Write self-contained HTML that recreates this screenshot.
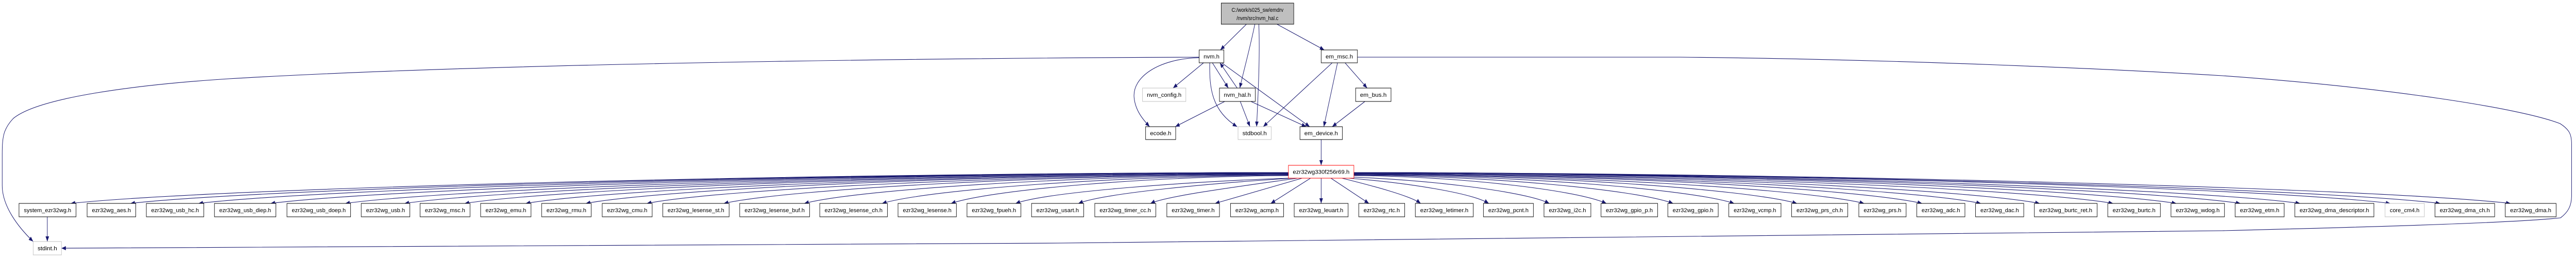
<!DOCTYPE html>
<html><head><meta charset="utf-8">
<style>
html,body{margin:0;padding:0;background:#fff;width:100%;height:100%;overflow:hidden;}
svg{display:block;position:absolute;left:0;top:0;width:100vw;height:100vh;}
text{font-family:"Liberation Sans",Arial,sans-serif;font-size:11px;fill:#000;}
.e{fill:none;stroke:#191970;stroke-width:1.1;}
.b rect{fill:#fff;stroke:#000;}
.b.g rect{stroke:#bfbfbf;}
</style></head>
<body>
<svg viewBox="0 0 5826 501" preserveAspectRatio="none" xmlns="http://www.w3.org/2000/svg">
<defs>
<marker id="a" markerWidth="10" markerHeight="8" refX="10" refY="4" orient="auto" markerUnits="userSpaceOnUse"><path d="M0,0 L10,4 L0,8z" fill="#191970"/></marker>
</defs>
<g marker-end="url(#a)">
<path class="e" d="M2819,47 L2760,97"/>
<path class="e" d="M2838,47 C2828,90 2812,140 2804,171"/>
<path class="e" d="M2847,47 C2850,110 2845,190 2842,246"/>
<path class="e" d="M2888,47 L2995,97"/>
<path class="e" d="M2712,111 C2400,112 1200,118 517,153 C300,165 86,190 30,230 C8,250 5,265 5,300 L5,360 C5,400 40,440 75,469"/>
<path class="e" d="M2712,112 C2620,114 2560,150 2565,190 C2568,215 2585,232 2600,246"/>
<path class="e" d="M2722,122 L2653,171"/>
<path class="e" d="M2742,122 L2778,171"/>
<path class="e" d="M2798,171 L2759,122"/>
<path class="e" d="M2736,122 C2735,170 2740,215 2798,246"/>
<path class="e" d="M2763,122 L2962,246"/>
<path class="e" d="M2770,197 L2658,246"/>
<path class="e" d="M2805,197 L2827,246"/>
<path class="e" d="M2829,197 L2954,246"/>
<path class="e" d="M3013,122 L2857,246"/>
<path class="e" d="M3025,122 L2994,246"/>
<path class="e" d="M3042,122 L3092,171"/>
<path class="e" d="M3087,197 L3013,246"/>
<path class="e" d="M2988,271 L2988,321"/>
<path class="e" d="M107,421 L107,469"/>
<path class="e" d="M3070,111 L3800,111 C4300,115 4800,135 5026,147 C5400,170 5700,210 5790,240 C5812,252 5816,262 5816,280 L5816,380 C5816,400 5808,412 5791,423 C5700,432 5400,440 5026,448 C4000,462 3000,470 2400,472 C1600,476 800,479 139,482"/>
<path class="e" d="M2914,335 C1812,336 490,365 160,395"/>
<path class="e" d="M2914,335 C1866,336 609,365 295,395"/>
<path class="e" d="M2914,335 C1928,336 745,365 449,395"/>
<path class="e" d="M2914,335 C1993,336 888,365 612,395"/>
<path class="e" d="M2914,335 C2061,336 1037,365 781,395"/>
<path class="e" d="M2914,336 C2114,337 1155,365 915,395"/>
<path class="e" d="M2914,336 C2169,337 1275,365 1051,395"/>
<path class="e" d="M2914,337 C2224,338 1396,365 1189,395"/>
<path class="e" d="M2914,337 C2278,338 1516,365 1325,395"/>
<path class="e" d="M2914,338 C2334,339 1637,366 1463,395"/>
<path class="e" d="M2914,338 C2403,339 1790,366 1637,395"/>
<path class="e" d="M2914,339 C2476,340 1950,366 1819,395"/>
<path class="e" d="M2914,340 C2546,341 2105,367 1995,395"/>
<path class="e" d="M2914,341 C2609,342 2243,368 2151,395"/>
<path class="e" d="M2916,346 C2700,352 2371,372 2297,395"/>
<path class="e" d="M2925,346 C2750,355 2496,375 2439,395"/>
<path class="e" d="M2935,346 C2820,360 2639,380 2602,395"/>
<path class="e" d="M2945,346 L2748,395"/>
<path class="e" d="M2964,346 L2874,395"/>
<path class="e" d="M2988,346 L2988,395"/>
<path class="e" d="M3010,346 L3096,395"/>
<path class="e" d="M3035,346 C3100,360 3190,380 3213,395"/>
<path class="e" d="M3050,346 C3184,355 3330,375 3367,395"/>
<path class="e" d="M3060,344 C3239,350 3451,372 3504,395"/>
<path class="e" d="M3062,341 C3290,342 3564,368 3633,395"/>
<path class="e" d="M3062,340 C3351,341 3697,367 3784,395"/>
<path class="e" d="M3062,339 C3406,340 3819,366 3922,395"/>
<path class="e" d="M3062,338 C3463,339 3944,366 4064,395"/>
<path class="e" d="M3062,338 C3524,339 4078,366 4216,395"/>
<path class="e" d="M3062,337 C3576,338 4193,365 4347,395"/>
<path class="e" d="M3062,337 C3629,338 4310,365 4480,395"/>
<path class="e" d="M3062,336 C3682,337 4427,365 4613,395"/>
<path class="e" d="M3062,336 C3749,337 4573,365 4779,395"/>
<path class="e" d="M3062,335 C3806,336 4699,365 4922,395"/>
<path class="e" d="M3062,335 C3864,336 4826,365 5067,395"/>
<path class="e" d="M3062,335 C3918,336 4945,365 5202,395"/>
<path class="e" d="M3062,335 C4000,336 5125,365 5406,395"/>
<path class="e" d="M3062,335 C4045,336 5224,365 5519,395"/>
<path class="e" d="M3062,335 C4108,336 5364,365 5678,395"/>
</g>

<rect x="2762" y="6" width="164" height="41" fill="#bfbfbf" stroke="#000"/>
<text x="2844" y="23" text-anchor="middle">C:/work/s025_sw/emdrv</text>
<text x="2844" y="39" text-anchor="middle">/nvm/src/nvm_hal.c</text>
<rect x="2712" y="97" width="56" height="25" fill="#fff" stroke="#000"/><text x="2740" y="113.5" text-anchor="middle" textLength="36" lengthAdjust="spacingAndGlyphs">nvm.h</text>
<rect x="2988" y="97" width="82" height="25" fill="#fff" stroke="#000"/><text x="3029" y="113.5" text-anchor="middle" textLength="62" lengthAdjust="spacingAndGlyphs">em_msc.h</text>
<rect x="2584" y="171" width="98" height="26" fill="#fff" stroke="#bfbfbf"/><text x="2633" y="188" text-anchor="middle" textLength="78" lengthAdjust="spacingAndGlyphs">nvm_config.h</text>
<rect x="2758" y="171" width="81" height="26" fill="#fff" stroke="#000"/><text x="2798.5" y="188" text-anchor="middle" textLength="61" lengthAdjust="spacingAndGlyphs">nvm_hal.h</text>
<rect x="3066" y="171" width="80" height="26" fill="#fff" stroke="#000"/><text x="3106" y="188" text-anchor="middle" textLength="60" lengthAdjust="spacingAndGlyphs">em_bus.h</text>
<rect x="2591" y="246" width="68" height="25" fill="#fff" stroke="#000"/><text x="2625" y="262.5" text-anchor="middle" textLength="48" lengthAdjust="spacingAndGlyphs">ecode.h</text>
<rect x="2800" y="246" width="75" height="25" fill="#fff" stroke="#bfbfbf"/><text x="2837.5" y="262.5" text-anchor="middle" textLength="55" lengthAdjust="spacingAndGlyphs">stdbool.h</text>
<rect x="2940" y="246" width="96" height="25" fill="#fff" stroke="#000"/><text x="2988" y="262.5" text-anchor="middle" textLength="76" lengthAdjust="spacingAndGlyphs">em_device.h</text>
<rect x="2914" y="321" width="148" height="25" fill="#fff" stroke="#ff0000"/><text x="2988" y="337.5" text-anchor="middle" textLength="128" lengthAdjust="spacingAndGlyphs">ezr32wg330f256r69.h</text>
<rect x="75" y="469" width="64" height="26" fill="#fff" stroke="#bfbfbf"/><text x="107" y="486" text-anchor="middle" textLength="44" lengthAdjust="spacingAndGlyphs">stdint.h</text>

<g text-anchor="middle">
<g class="b"><rect x="43" y="395" width="129" height="26"/><text x="107.5" y="412" textLength="107" lengthAdjust="spacingAndGlyphs">system_ezr32wg.h</text></g>
<g class="b"><rect x="197" y="395" width="110" height="26"/><text x="252" y="412" textLength="88" lengthAdjust="spacingAndGlyphs">ezr32wg_aes.h</text></g>
<g class="b"><rect x="331" y="395" width="130" height="26"/><text x="396" y="412" textLength="108" lengthAdjust="spacingAndGlyphs">ezr32wg_usb_hc.h</text></g>
<g class="b"><rect x="485" y="395" width="139" height="26"/><text x="554.5" y="412" textLength="117" lengthAdjust="spacingAndGlyphs">ezr32wg_usb_diep.h</text></g>
<g class="b"><rect x="649" y="395" width="144" height="26"/><text x="721" y="412" textLength="122" lengthAdjust="spacingAndGlyphs">ezr32wg_usb_doep.h</text></g>
<g class="b"><rect x="817" y="395" width="110" height="26"/><text x="872" y="412" textLength="88" lengthAdjust="spacingAndGlyphs">ezr32wg_usb.h</text></g>
<g class="b"><rect x="950" y="395" width="113" height="26"/><text x="1006.5" y="412" textLength="91" lengthAdjust="spacingAndGlyphs">ezr32wg_msc.h</text></g>
<g class="b"><rect x="1087" y="395" width="114" height="26"/><text x="1144" y="412" textLength="92" lengthAdjust="spacingAndGlyphs">ezr32wg_emu.h</text></g>
<g class="b"><rect x="1225" y="395" width="112" height="26"/><text x="1281" y="412" textLength="90" lengthAdjust="spacingAndGlyphs">ezr32wg_rmu.h</text></g>
<g class="b"><rect x="1362" y="395" width="113" height="26"/><text x="1418.5" y="412" textLength="91" lengthAdjust="spacingAndGlyphs">ezr32wg_cmu.h</text></g>
<g class="b"><rect x="1499" y="395" width="150" height="26"/><text x="1574" y="412" textLength="128" lengthAdjust="spacingAndGlyphs">ezr32wg_lesense_st.h</text></g>
<g class="b"><rect x="1673" y="395" width="158" height="26"/><text x="1752" y="412" textLength="136" lengthAdjust="spacingAndGlyphs">ezr32wg_lesense_buf.h</text></g>
<g class="b"><rect x="1854" y="395" width="153" height="26"/><text x="1930.5" y="412" textLength="131" lengthAdjust="spacingAndGlyphs">ezr32wg_lesense_ch.h</text></g>
<g class="b"><rect x="2031" y="395" width="132" height="26"/><text x="2097" y="412" textLength="110" lengthAdjust="spacingAndGlyphs">ezr32wg_lesense.h</text></g>
<g class="b"><rect x="2187" y="395" width="122" height="26"/><text x="2248" y="412" textLength="100" lengthAdjust="spacingAndGlyphs">ezr32wg_fpueh.h</text></g>
<g class="b"><rect x="2333" y="395" width="118" height="26"/><text x="2392" y="412" textLength="96" lengthAdjust="spacingAndGlyphs">ezr32wg_usart.h</text></g>
<g class="b"><rect x="2476" y="395" width="138" height="26"/><text x="2545" y="412" textLength="116" lengthAdjust="spacingAndGlyphs">ezr32wg_timer_cc.h</text></g>
<g class="b"><rect x="2639" y="395" width="119" height="26"/><text x="2698.5" y="412" textLength="97" lengthAdjust="spacingAndGlyphs">ezr32wg_timer.h</text></g>
<g class="b"><rect x="2783" y="395" width="120" height="26"/><text x="2843" y="412" textLength="98" lengthAdjust="spacingAndGlyphs">ezr32wg_acmp.h</text></g>
<g class="b"><rect x="2927" y="395" width="122" height="26"/><text x="2988" y="412" textLength="100" lengthAdjust="spacingAndGlyphs">ezr32wg_leuart.h</text></g>
<g class="b"><rect x="3073" y="395" width="104" height="26"/><text x="3125" y="412" textLength="82" lengthAdjust="spacingAndGlyphs">ezr32wg_rtc.h</text></g>
<g class="b"><rect x="3201" y="395" width="131" height="26"/><text x="3266.5" y="412" textLength="109" lengthAdjust="spacingAndGlyphs">ezr32wg_letimer.h</text></g>
<g class="b"><rect x="3355" y="395" width="113" height="26"/><text x="3411.5" y="412" textLength="91" lengthAdjust="spacingAndGlyphs">ezr32wg_pcnt.h</text></g>
<g class="b"><rect x="3492" y="395" width="106" height="26"/><text x="3545" y="412" textLength="84" lengthAdjust="spacingAndGlyphs">ezr32wg_i2c.h</text></g>
<g class="b"><rect x="3621" y="395" width="128" height="26"/><text x="3685" y="412" textLength="106" lengthAdjust="spacingAndGlyphs">ezr32wg_gpio_p.h</text></g>
<g class="b"><rect x="3772" y="395" width="114" height="26"/><text x="3829" y="412" textLength="92" lengthAdjust="spacingAndGlyphs">ezr32wg_gpio.h</text></g>
<g class="b"><rect x="3910" y="395" width="118" height="26"/><text x="3969" y="412" textLength="96" lengthAdjust="spacingAndGlyphs">ezr32wg_vcmp.h</text></g>
<g class="b"><rect x="4052" y="395" width="127" height="26"/><text x="4115.5" y="412" textLength="105" lengthAdjust="spacingAndGlyphs">ezr32wg_prs_ch.h</text></g>
<g class="b"><rect x="4204" y="395" width="107" height="26"/><text x="4257.5" y="412" textLength="85" lengthAdjust="spacingAndGlyphs">ezr32wg_prs.h</text></g>
<g class="b"><rect x="4335" y="395" width="109" height="26"/><text x="4389.5" y="412" textLength="87" lengthAdjust="spacingAndGlyphs">ezr32wg_adc.h</text></g>
<g class="b"><rect x="4468" y="395" width="109" height="26"/><text x="4522.5" y="412" textLength="87" lengthAdjust="spacingAndGlyphs">ezr32wg_dac.h</text></g>
<g class="b"><rect x="4601" y="395" width="142" height="26"/><text x="4672" y="412" textLength="120" lengthAdjust="spacingAndGlyphs">ezr32wg_burtc_ret.h</text></g>
<g class="b"><rect x="4767" y="395" width="119" height="26"/><text x="4826.5" y="412" textLength="97" lengthAdjust="spacingAndGlyphs">ezr32wg_burtc.h</text></g>
<g class="b"><rect x="4910" y="395" width="121" height="26"/><text x="4970.5" y="412" textLength="99" lengthAdjust="spacingAndGlyphs">ezr32wg_wdog.h</text></g>
<g class="b"><rect x="5055" y="395" width="111" height="26"/><text x="5110.5" y="412" textLength="89" lengthAdjust="spacingAndGlyphs">ezr32wg_etm.h</text></g>
<g class="b"><rect x="5190" y="395" width="179" height="26"/><text x="5279.5" y="412" textLength="157" lengthAdjust="spacingAndGlyphs">ezr32wg_dma_descriptor.h</text></g>
<g class="b g"><rect x="5394" y="395" width="89" height="26"/><text x="5438.5" y="412" textLength="67" lengthAdjust="spacingAndGlyphs">core_cm4.h</text></g>
<g class="b"><rect x="5507" y="395" width="135" height="26"/><text x="5574.5" y="412" textLength="113" lengthAdjust="spacingAndGlyphs">ezr32wg_dma_ch.h</text></g>
<g class="b"><rect x="5666" y="395" width="115" height="26"/><text x="5723.5" y="412" textLength="93" lengthAdjust="spacingAndGlyphs">ezr32wg_dma.h</text></g>
</g>
</svg>
</body></html>
